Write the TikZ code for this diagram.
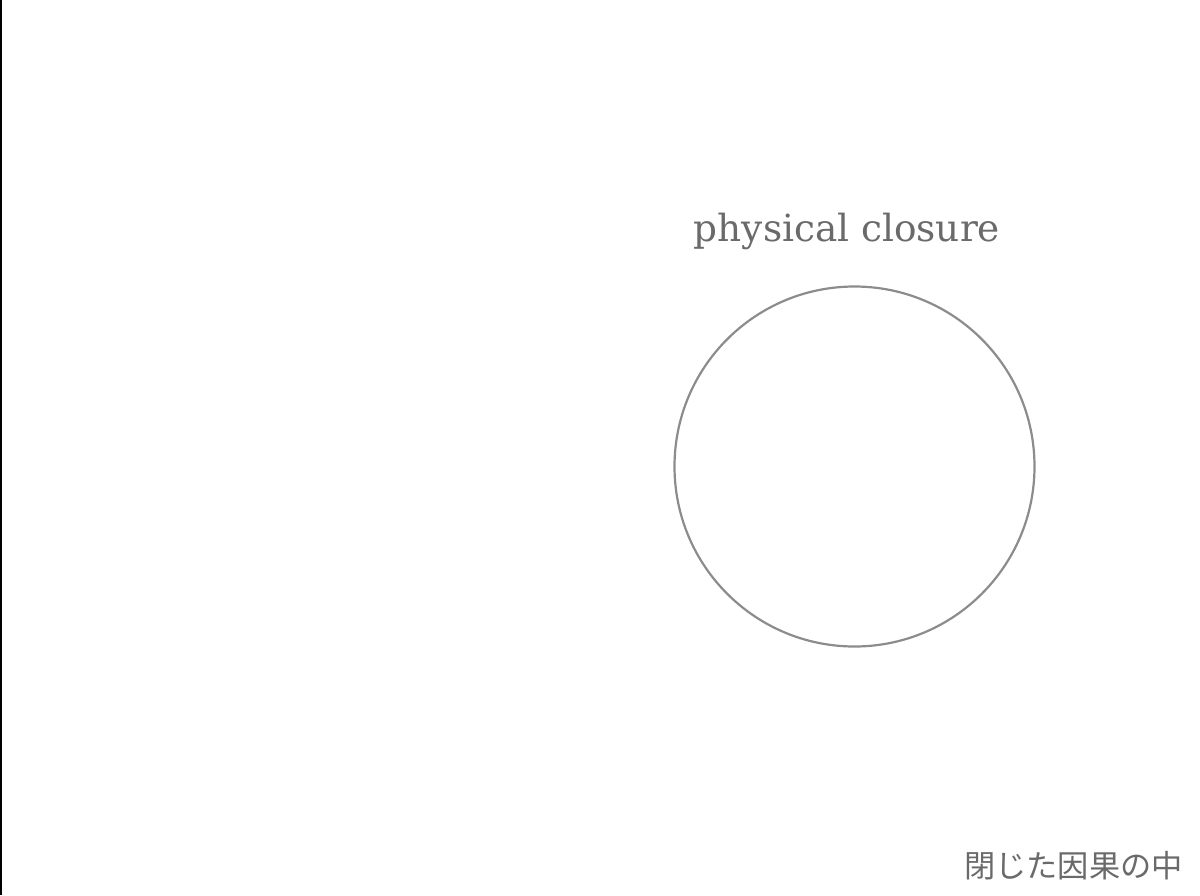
\documentclass[tikz,border=0pt]{standalone}
\usepackage{fontspec}
\newfontfamily\labelfont{DejaVu Serif}
\newfontfamily\jpfont{Noto Sans CJK JP}
\usetikzlibrary{positioning}

\definecolor{closuregray}{HTML}{6A6A6A}
\definecolor{ringgray}{HTML}{8C8C8C}

\tikzset{
    closure/.style={circle, draw=ringgray, line width=1.1pt, minimum size=180pt, inner sep=0pt},
    caption/.style={text=closuregray, inner sep=0pt},
}

\begin{document}
\begin{tikzpicture}[x=0.5pt, y=-0.5pt]
    \useasboundingbox (0,0) rectangle (1200,895);
    % left frame edge
    \coordinate (edgetop) at (1,0);
    \coordinate (edgebottom) at (1,895);
    \draw[black, line width=1.2pt] (edgetop) -- (edgebottom);

    \node[closure] (closure) at (854.5,466.5) {};
    \node[caption, font=\labelfont\fontsize{18.7}{22}\selectfont, anchor=base]
        (closurelabel) at (847,241) {physical closure};
    \node[caption, font=\jpfont\fontsize{15.6}{18}\selectfont, anchor=east]
        (inside) at (1183,866) {閉じた因果の中};
\end{tikzpicture}
\end{document}
